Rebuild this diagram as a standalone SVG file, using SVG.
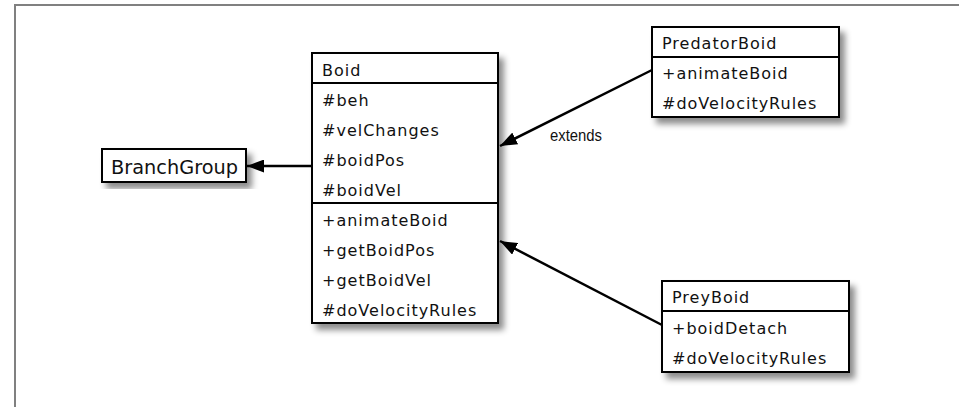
<svg xmlns="http://www.w3.org/2000/svg" width="959" height="407" viewBox="0 0 959 407">
  <defs>
    <filter id="shadow" x="-10%" y="-10%" width="130%" height="130%">
      <feDropShadow dx="5" dy="6" stdDeviation="3" flood-color="#000" flood-opacity="0.45"/>
    </filter>
    <marker id="arrow" markerUnits="userSpaceOnUse" markerWidth="18" markerHeight="13" refX="17" refY="6.5" orient="auto">
      <path d="M0,0 L17,6.5 L0,13 z" fill="#000"/>
    </marker>
    <style>
      .box { fill: #fff; stroke: #000; stroke-width: 2; filter: url(#shadow); }
      .div { stroke: #000; stroke-width: 2; fill: none; }
      .t { font-family: "DejaVu Sans", sans-serif; font-size: 16px; letter-spacing: 1px; fill: #111; }
      .conn { stroke: #000; stroke-width: 2.5; fill: none; marker-end: url(#arrow); }
      .lbl { font-family: "Liberation Sans", "Arial", sans-serif; font-size: 16px; fill: #111; }
    </style>
  </defs>
  <rect width="959" height="407" fill="#fff"/>
  <rect x="15" y="5" width="960" height="430" fill="none" stroke="#808080" stroke-width="2"/>

  <g id="connectors">
    <line class="conn" x1="312" y1="166" x2="247" y2="166"/>
    <line class="conn" x1="652" y1="70" x2="500" y2="146"/>
    <line class="conn" x1="662" y1="325" x2="500" y2="241"/>
    <text class="lbl" x="550" y="141" textLength="52" lengthAdjust="spacingAndGlyphs">extends</text>
  </g>

  <g id="BranchGroup">
    <rect class="box" x="102" y="149" width="144" height="33"/>
    <text x="111" y="174" font-family="DejaVu Sans, sans-serif" font-size="19" fill="#111" textLength="127" lengthAdjust="spacingAndGlyphs">BranchGroup</text>
  </g>

  <g id="Boid">
    <rect class="box" x="312" y="53" width="186" height="270"/>
    <line class="div" x1="312" y1="83" x2="498" y2="83"/>
    <line class="div" x1="312" y1="203" x2="498" y2="203"/>
    <text class="t" x="322" y="76">Boid</text>
    <text class="t" x="322" y="106">#beh</text>
    <text class="t" x="322" y="136">#velChanges</text>
    <text class="t" x="322" y="166">#boidPos</text>
    <text class="t" x="322" y="196">#boidVel</text>
    <text class="t" x="322" y="226">+animateBoid</text>
    <text class="t" x="322" y="256">+getBoidPos</text>
    <text class="t" x="322" y="286">+getBoidVel</text>
    <text class="t" x="322" y="316">#doVelocityRules</text>
  </g>

  <g id="PredatorBoid">
    <rect class="box" x="652" y="27" width="187" height="90"/>
    <line class="div" x1="652" y1="57" x2="839" y2="57"/>
    <text class="t" x="662" y="49">PredatorBoid</text>
    <text class="t" x="662" y="79">+animateBoid</text>
    <text class="t" x="662" y="109">#doVelocityRules</text>
  </g>

  <g id="PreyBoid">
    <rect class="box" x="662" y="281" width="187" height="91"/>
    <line class="div" x1="662" y1="311" x2="849" y2="311"/>
    <text class="t" x="672" y="303">PreyBoid</text>
    <text class="t" x="672" y="334">+boidDetach</text>
    <text class="t" x="672" y="364">#doVelocityRules</text>
  </g>
</svg>
